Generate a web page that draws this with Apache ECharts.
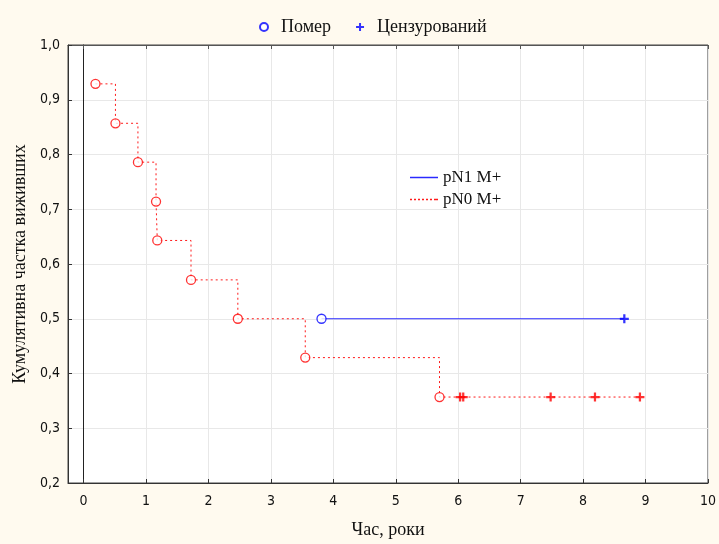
<!DOCTYPE html>
<html>
<head>
<meta charset="utf-8">
<script src="https://cdn.jsdelivr.net/npm/echarts@6/dist/echarts.min.js"></script>
<style>
html,body{margin:0;padding:0;background:#fffaef;}
#chart{width:719px;height:544px;}
</style>
</head>
<body>
<div id="chart"></div>
<script>
// ---- data ----
const deathTimesN0 = [0.19, 0.51, 0.87, 1.16, 1.18, 1.72, 2.47, 3.55, 5.70];
const deathSurvN0  = [0.929, 0.857, 0.786, 0.714, 0.643, 0.571, 0.500, 0.429, 0.357];
const censTimesN0  = [6.03, 6.08, 7.48, 8.19, 8.91];
const censSurvN0   = [0.357, 0.357, 0.357, 0.357, 0.357];
const deathTimesN1 = [3.81];
const deathSurvN1  = [0.500];
const censTimesN1  = [8.66];
const censSurvN1   = [0.500];
const xTicks = [0, 1, 2, 3, 4, 5, 6, 7, 8, 9, 10];
const seriesNames = ['pN1 M+', 'pN0 M+'];
const markerNames = ['Помер', 'Цензурований'];

const zip = (a, b) => a.map((v, i) => [v, b[i]]);
const PLUS = 'path://M3,0H5V3H8V5H5V8H3V5H0V3H3Z';
const SOLID_ICON = 'path://M0,0H28V1.5H0Z';
const DOTTED_ICON = 'path://M0,0h2v1.5h-2zM4,0h2v1.5h-2zM8,0h2v1.5h-2zM12,0h2v1.5h-2zM16,0h2v1.5h-2zM20,0h2v1.5h-2zM24,0h2v1.5h-2zM26,0h2v1.5h-2z';

const lineN0 = zip(deathTimesN0, deathSurvN0).concat([[censTimesN0[censTimesN0.length-1], censSurvN0[censSurvN0.length-1]]]);
const lineN1 = zip(deathTimesN1, deathSurvN1).concat(zip(censTimesN1, censSurvN1));

const BLUE = '#2a2aff', RED = '#ff1a1a';
const tickFont = {fontFamily: "'Liberation Sans Narrow','DejaVu Sans Condensed','Liberation Sans',Arial", fontSize: 14, color: '#111'};
const serif = "'Liberation Serif','Times New Roman',serif";

const chart = echarts.init(document.getElementById('chart'));
chart.setOption({
  backgroundColor: '#fffaef',
  animation: false,
  grid: {left: 68, right: 10, top: 45, bottom: 56, show: true, backgroundColor: '#ffffff', borderColor: '#444', borderWidth: 1},
  legend: [
    {
      data: [
        {name: markerNames[0], icon: 'emptyCircle', itemStyle: {color: '#0000ff', borderColor: '#0000ff', borderWidth: 1.2}},
        {name: markerNames[1], icon: PLUS, itemStyle: {color: '#0000ff', borderWidth: 0}}
      ],
      left: 254, top: 13, itemWidth: 8, itemHeight: 8, itemGap: 25,
      textStyle: {fontFamily: serif, fontSize: 18, color: '#111', padding: [0, 0, 0, 8]}
    },
    {
      data: [
        {name: seriesNames[0], icon: SOLID_ICON, itemStyle: {color: BLUE, borderWidth: 0}},
        {name: seriesNames[1], icon: DOTTED_ICON, itemStyle: {color: RED, borderWidth: 0}}
      ],
      orient: 'vertical', left: 405, top: 164, itemWidth: 28, itemHeight: 1.5, itemGap: 5,
      textStyle: {fontFamily: serif, fontSize: 17, color: '#111'}
    }
  ],
  xAxis: [{
    type: 'value', min: -0.25, max: 10,
    name: 'Час, роки', nameLocation: 'middle', nameGap: 38,
    nameTextStyle: {fontFamily: serif, fontSize: 18, color: '#111'},
    axisLine: {show: true, onZero: false, lineStyle: {color: '#333'}},
    axisTick: {inside: true, length: 4, customValues: xTicks, lineStyle: {color: '#333'}},
    axisLabel: Object.assign({customValues: xTicks, margin: 11}, tickFont),
    splitLine: {show: true, lineStyle: {color: '#e8e8e8'}}
  }, {
    type: 'value', min: -0.25, max: 10, position: 'top',
    axisLine: {show: true, lineStyle: {color: '#555'}},
    axisTick: {inside: true, length: 4, customValues: xTicks, lineStyle: {color: '#555'}},
    axisLabel: {show: false}, splitLine: {show: false}
  }],
  yAxis: [{
    type: 'value', min: 0.2, max: 1.0, interval: 0.1,
    name: 'Кумулятивна частка виживших', nameLocation: 'middle', nameGap: 39,
    nameTextStyle: {fontFamily: serif, fontSize: 18, color: '#111'},
    axisLine: {show: true, onZero: false, lineStyle: {color: '#333'}},
    axisTick: {inside: true, length: 4, lineStyle: {color: '#333'}},
    axisLabel: Object.assign({formatter: v => v.toFixed(1).replace('.', ','), margin: 8}, tickFont),
    splitLine: {show: true, lineStyle: {color: '#e8e8e8'}}
  }, {
    type: 'value', min: 0.2, max: 1.0, interval: 0.1, position: 'right',
    axisLine: {show: true, lineStyle: {color: '#222'}},
    axisTick: {show: false}, axisLabel: {show: false}, splitLine: {show: false}
  }],
  series: [
    {name: seriesNames[0], type: 'line', data: lineN1, showSymbol: false, symbol: 'none',
     lineStyle: {color: BLUE, width: 1}, itemStyle: {color: BLUE}, z: 2},
    {name: seriesNames[1], type: 'line', data: lineN0, step: 'end', showSymbol: false, symbol: 'none',
     lineStyle: {color: RED, width: 1, type: [2, 3]}, itemStyle: {color: RED}, z: 2},
    {name: markerNames[0], type: 'scatter', data: zip(deathTimesN1, deathSurvN1), symbol: 'circle', symbolSize: 9,
     itemStyle: {color: '#fff', borderColor: '#0000ff', borderWidth: 1.3}, z: 3},
    {name: markerNames[0], type: 'scatter', data: zip(deathTimesN0, deathSurvN0), symbol: 'circle', symbolSize: 9,
     itemStyle: {color: '#fff', borderColor: '#ff0000', borderWidth: 1.3}, z: 3},
    {name: markerNames[1], type: 'scatter', data: zip(censTimesN1, censSurvN1), symbol: PLUS, symbolSize: 9,
     itemStyle: {color: '#0000ff'}, z: 3},
    {name: markerNames[1], type: 'scatter', data: zip(censTimesN0, censSurvN0), symbol: PLUS, symbolSize: 9,
     itemStyle: {color: '#ff0000'}, z: 3}
  ]
});
</script>
</body>
</html>
